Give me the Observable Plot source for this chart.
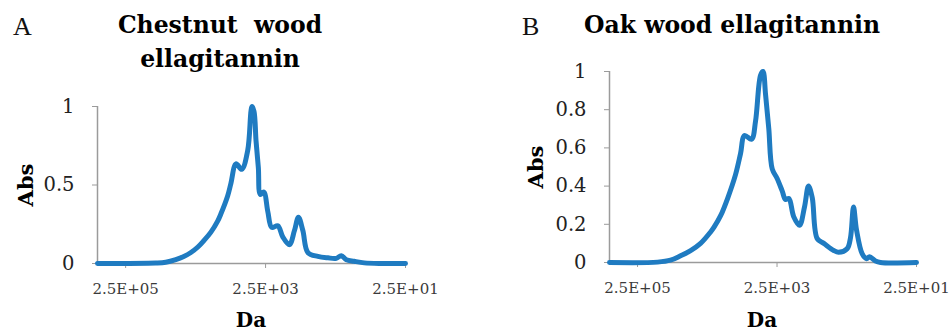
<!DOCTYPE html>
<html><head><meta charset="utf-8">
<script src="https://cdn.jsdelivr.net/npm/d3@7"></script>
<script src="https://cdn.jsdelivr.net/npm/@observablehq/plot@0.6"></script>
<style>
body{margin:0;background:#fff}
#wrap{position:relative;width:951px;height:333px;overflow:hidden;background:#fff}
#wrap > svg{position:absolute;top:0}
</style></head><body>
<div id="wrap"></div>
<script>
// Panel A: Chestnut wood ellagitannin
const chestnutDa  = [631000, 93000, 66800, 48000, 36900, 29200, 23200, 19100, 15100, 12100, 10900, 8710, 7820, 6620, 5480, 4500, 4040, 3910, 3660, 3420, 3170, 2970, 2650, 2320, 2040, 1670, 1420, 1140, 966, 847, 733, 621, 447, 321, 244, 207, 175, 135, 97, 55, 25];
const chestnutAbs = [0, 0.003, 0.008, 0.025, 0.045, 0.07, 0.105, 0.145, 0.20, 0.27, 0.315, 0.43, 0.51, 0.635, 0.60, 0.72, 0.97, 1.0, 0.97, 0.78, 0.61, 0.44, 0.455, 0.33, 0.23, 0.24, 0.17, 0.12, 0.21, 0.295, 0.21, 0.07, 0.045, 0.036, 0.033, 0.05, 0.024, 0.014, 0.004, 0, 0];
// Panel B: Oak wood ellagitannin
const oakDa  = [631000, 129000, 84100, 60400, 43400, 31200, 22400, 20000, 16100, 12800, 9840, 8340, 7310, 5800, 5080, 4310, 3970, 3650, 3280, 2930, 2490, 2110, 1890, 1690, 1440, 1190, 1010, 884, 782, 663, 533, 384, 328, 247, 221, 200, 181, 150, 130, 118, 97, 82, 25];
const oakAbs = [0, 0.002, 0.012, 0.035, 0.062, 0.10, 0.16, 0.185, 0.245, 0.335, 0.46, 0.57, 0.665, 0.645, 0.74, 0.98, 1.0, 0.88, 0.70, 0.49, 0.44, 0.375, 0.33, 0.335, 0.24, 0.195, 0.29, 0.40, 0.34, 0.125, 0.10, 0.063, 0.054, 0.072, 0.13, 0.29, 0.17, 0.045, 0.02, 0.03, 0.008, 0, 0];

const xDomain = [631000, 25];
const xTicks = [250000, 2500, 25];
const yTicksA = [0, 0.5, 1];
const yTicksB = [0, 0.2, 0.4, 0.6, 0.8, 1];
const panelLetters = ["A", "B"];
const titleA = ["Chestnut  wood", "ellagitannin"];
const titleB = ["Oak wood ellagitannin"];
const xLabel = "Da";
const yLabel = "Abs";

const lineColor = "#1f7bc1";
const axisColor = "#9b9b9b";

function sciFmt(d) {
  const [m, e] = d.toExponential(1).split("e");
  return m + "E" + e[0] + e.slice(1).padStart(2, "0");
}

function panel(da, abs, yTicks, opts) {
  const data = da.map((d, i) => ({da: d, abs: abs[i]}));
  return Plot.plot({
    width: opts.width, height: 333,
    marginLeft: opts.ml, marginRight: opts.mr, marginTop: opts.mt, marginBottom: opts.mb,
    style: {fontFamily: "DejaVu Serif", background: "transparent", overflow: "visible"},
    x: {type: "log", domain: xDomain},
    y: {domain: [0, 1]},
    marks: [
      Plot.ruleY([0], {stroke: axisColor, strokeWidth: 1.5}),
      Plot.ruleX([xDomain[0]], {y1: 0, y2: 1, stroke: axisColor, strokeWidth: 1.5}),
      Plot.axisX({ticks: xTicks, tickFormat: sciFmt, tickSize: 5, tickPadding: 15, fontSize: 15,
                  stroke: axisColor, fill: "#3a3a3a", label: null}),
      Plot.axisY({ticks: yTicks, tickFormat: d => String(d), tickSize: 5, tickPadding: 18, fontSize: 19.5,
                  stroke: axisColor, fill: "#222", label: null}),
      Plot.line(data, {x: "da", y: "abs", curve: "catmull-rom", stroke: lineColor, strokeWidth: 5,
                       strokeLinejoin: "round", strokeLinecap: "round"})
    ]
  });
}

const wrap = document.getElementById("wrap");
const a = panel(chestnutDa, chestnutAbs, yTicksA, {width: 475, ml: 97, mr: 70, mt: 106, mb: 70});
a.style.left = "0px";
wrap.appendChild(a);
const b = panel(oakDa, oakAbs, yTicksB, {width: 476, ml: 134, mr: 35, mt: 71, mb: 71});
b.style.left = "475px";
wrap.appendChild(b);

// Text overlay: panel letters, titles, axis labels
const ov = d3.select(wrap).append("svg")
  .attr("width", 951).attr("height", 333)
  .style("left", "0px").style("pointer-events", "none");

const letters = [{t: panelLetters[0], x: 13, y: 35}, {t: panelLetters[1], x: 522, y: 35}];
ov.selectAll("text.letter").data(letters).join("text").attr("class", "letter")
  .attr("x", d => d.x).attr("y", d => d.y).text(d => d.t)
  .attr("font-family", "Liberation Serif").attr("font-size", 26).attr("fill", "#111");

const titles = [
  {t: titleA[0], x: 220, y: 33}, {t: titleA[1], x: 220, y: 67},
  {t: titleB[0], x: 732, y: 33}
];
ov.selectAll("text.title").data(titles).join("text").attr("class", "title")
  .attr("x", d => d.x).attr("y", d => d.y).text(d => d.t)
  .attr("text-anchor", "middle").style("white-space", "pre")
  .attr("font-family", "DejaVu Serif").attr("font-weight", "bold").attr("font-size", 23.5).attr("fill", "#000");

const xl = [{x: 251, y: 327}, {x: 762, y: 327}];
ov.selectAll("text.xl").data(xl).join("text").attr("class", "xl")
  .attr("x", d => d.x).attr("y", d => d.y).text(xLabel)
  .attr("text-anchor", "middle")
  .attr("font-family", "DejaVu Serif").attr("font-weight", "bold").attr("font-size", 20).attr("fill", "#000");

const yl = [{x: 33, y: 185}, {x: 543, y: 167}];
ov.selectAll("text.yl").data(yl).join("text").attr("class", "yl")
  .attr("transform", d => `translate(${d.x},${d.y}) rotate(-90)`).text(yLabel)
  .attr("text-anchor", "middle")
  .attr("font-family", "DejaVu Serif").attr("font-weight", "bold").attr("font-size", 21).attr("fill", "#000");
</script>
</body></html>
